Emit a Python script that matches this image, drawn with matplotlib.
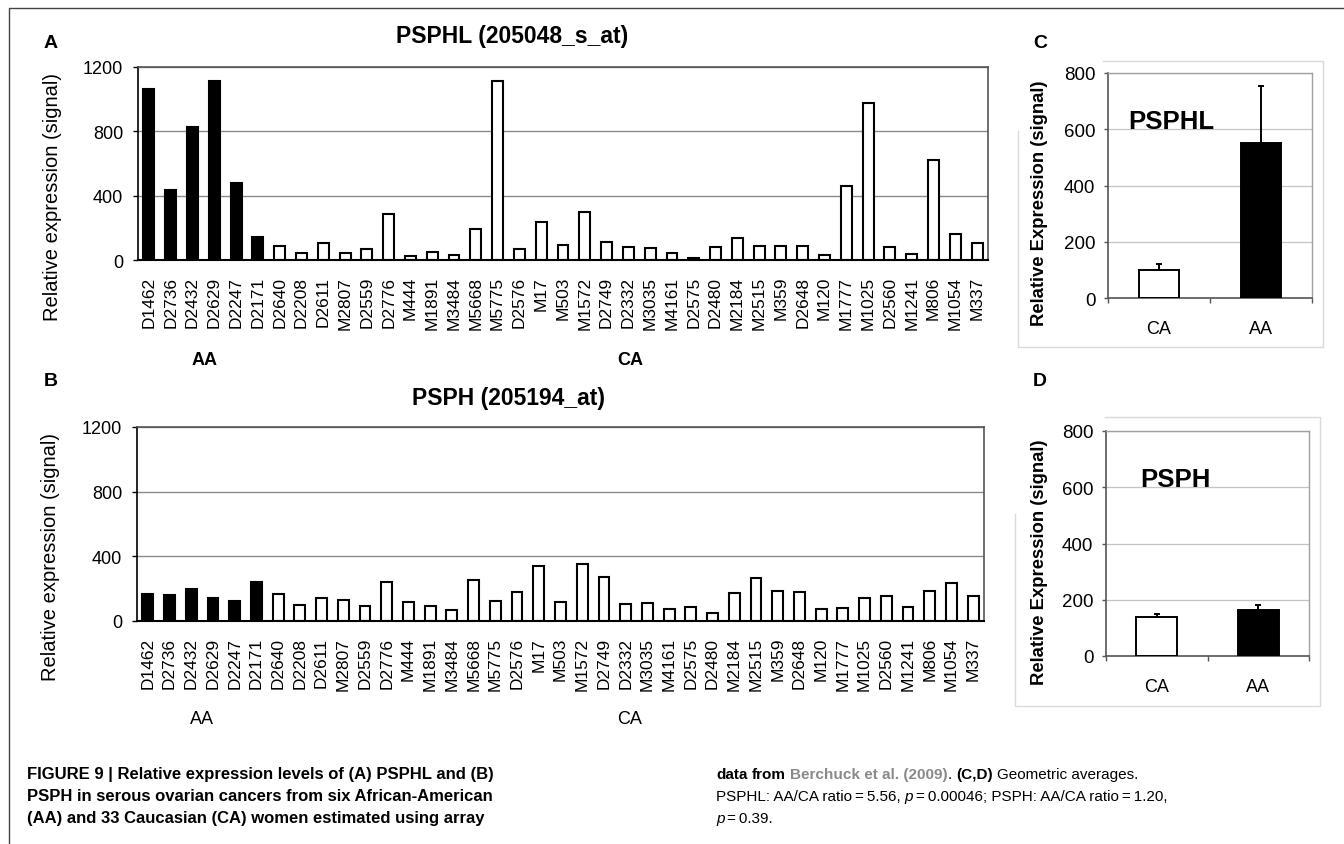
import matplotlib
matplotlib.use('Agg')
import matplotlib.pyplot as plt
from matplotlib.lines import Line2D
import numpy as np

plt.rcParams['font.family'] = ['Liberation Sans', 'DejaVu Sans']

# ---------------- data ----------------
samples = ["D1462", "D2736", "D2432", "D2629", "D2247", "D2171", "D2640", "D2208",
           "D2611", "M2807", "D2559", "D2776", "M444", "M1891", "M3484", "M5668",
           "M5775", "D2576", "M17", "M503", "M1572", "D2749", "D2332", "M3035",
           "M4161", "D2575", "D2480", "M2184", "M2515", "M359", "D2648", "M120",
           "M1777", "M1025", "D2560", "M1241", "M806", "M1054", "M337"]
groups = ["AA"] * 6 + ["CA"] * 33

pspHL_signal = [1065, 437, 830, 1115, 478, 143, 87, 46, 106, 46, 67, 285, 25, 52,
                33, 191, 1115, 67, 237, 94, 299, 114, 79, 73, 46, 10, 79, 135, 87,
                87, 87, 31, 459, 977, 79, 40, 624, 160, 108]
psph_signal = [169, 163, 196, 142, 122, 243, 167, 99, 140, 128, 95, 241, 120, 95,
               66, 256, 126, 179, 340, 120, 355, 274, 107, 111, 74, 87, 52, 171,
               268, 188, 181, 72, 80, 140, 153, 87, 186, 233, 155]

gm_groups = ["CA", "AA"]
pspHL_gm = [100, 550]
pspHL_gm_err = [20, 205]
psph_gm = [137, 164]
psph_gm_err = [11, 16]

# ---------------- figure ----------------
W, H = 1344, 845
fig = plt.figure(figsize=(W / 100, H / 100), dpi=100)
fig.patch.set_facecolor('white')


def px_axes(l, t, r, b):
    return fig.add_axes([l / W, 1 - b / H, (r - l) / W, (b - t) / H])


def ftext(x, y, s, **kw):
    return fig.text(x / W, 1 - y / H, s, **kw)


# outer frame (top and left edges)
fig.add_artist(Line2D([9 / W, 9 / W, 1.0], [0.0, 1 - 9 / H, 1 - 9 / H],
                      transform=fig.transFigure, color='#444444', lw=1.0))


def sample_panel(ax, vals):
    x = np.arange(len(samples))
    colors = ['black' if g == 'AA' else 'white' for g in groups]
    ax.bar(x, vals, width=0.5, color=colors, edgecolor='black', linewidth=1.5, zorder=3)
    ax.set_xlim(-0.5, len(samples) - 0.5)
    ax.set_ylim(0, 1200)
    ax.set_yticks([0, 400, 800, 1200])
    ax.yaxis.grid(True, color='#8a8a8a', linewidth=1.0, zorder=0)
    ax.set_axisbelow(True)
    ax.set_xticks(x)
    ax.set_xticklabels(samples, rotation=90, fontsize=12.5)
    ax.tick_params(axis='x', length=0, pad=11.5)
    ax.tick_params(axis='y', length=3.6, width=1.0, direction='out', labelsize=13, pad=7)
    for s in ['top', 'right']:
        ax.spines[s].set_color('#555555')
        ax.spines[s].set_linewidth(1.2)
    ax.spines['left'].set_color('black')
    ax.spines['left'].set_linewidth(1.2)
    ax.spines['bottom'].set_color('black')
    ax.spines['bottom'].set_linewidth(1.5)
    ax.spines['bottom'].set_zorder(4)


axA = px_axes(138, 68, 988, 261)
sample_panel(axA, pspHL_signal)
axB = px_axes(137, 428, 984, 622)
sample_panel(axB, psph_signal)

# labels for A and B
ftext(51, 44, "A", fontsize=14, fontweight='bold', ha='center', va='center')
ftext(51, 381, "B", fontsize=14, fontweight='bold', ha='center', va='center')
ftext(512, 37, "PSPHL (205048_s_at)", fontsize=16.5, fontweight='bold', ha='center', va='center')
ftext(508, 398, "PSPH (205194_at)", fontsize=16.5, fontweight='bold', ha='center', va='center')
ftext(53, 197, "Relative expression (signal)", fontsize=14.5, rotation=90, ha='center', va='center')
ftext(51, 557, "Relative expression (signal)", fontsize=14.5, rotation=90, ha='center', va='center')
ftext(205, 361, "AA", fontsize=13, fontweight='bold', ha='center', va='center')
ftext(630, 361, "CA", fontsize=13, fontweight='bold', ha='center', va='center')
ftext(202, 720, "AA", fontsize=13, ha='center', va='center')
ftext(630, 720, "CA", fontsize=13, ha='center', va='center')


def gm_panel(ax, vals, errs):
    x = np.arange(len(gm_groups))
    ax.bar(x, vals, width=0.4, color=['white', 'black'], edgecolor='black',
           linewidth=1.4, zorder=3)
    ax.errorbar(x, vals, yerr=[[0] * len(errs), errs], fmt='none', ecolor='black',
                elinewidth=1.4, capsize=2.5, capthick=1.4, zorder=4)
    ax.set_xlim(-0.5, 1.5)
    ax.set_ylim(0, 800)
    ax.set_yticks([0, 200, 400, 600, 800])
    ax.yaxis.grid(True, color='#c4c4c4', linewidth=0.9, zorder=0)
    ax.set_axisbelow(True)
    ax.set_xticks(x)
    ax.set_xticklabels(gm_groups, fontsize=13)
    ax.set_xticks([-0.5, 0.5, 1.5], minor=True)
    ax.tick_params(axis='x', which='major', length=0, pad=16)
    ax.tick_params(axis='x', which='minor', length=3.5, width=1.0, color='#555555',
                   direction='out')
    ax.tick_params(axis='y', length=3, width=1.0, color='#555555', direction='out',
                   labelsize=13.5, pad=6)
    for s in ['top', 'right']:
        ax.spines[s].set_color('#a0a0a0')
        ax.spines[s].set_linewidth(1.0)
    for s in ['left', 'bottom']:
        ax.spines[s].set_color('#555555')
        ax.spines[s].set_linewidth(1.2)


def chart_box(pts):
    xs = [p[0] / W for p in pts]
    ys = [1 - p[1] / H for p in pts]
    fig.add_artist(Line2D(xs, ys, transform=fig.transFigure, color='#dadada', lw=1.0))


chart_box([(1103, 62), (1323, 62), (1323, 348), (1018, 348), (1018, 132)])
chart_box([(1105, 418), (1320, 418), (1320, 707), (1015, 707), (1015, 515)])

axC = px_axes(1108, 74, 1312, 299)
gm_panel(axC, pspHL_gm, pspHL_gm_err)
axD = px_axes(1106, 432, 1309, 657)
gm_panel(axD, psph_gm, psph_gm_err)

ftext(1040, 43, "C", fontsize=14, fontweight='bold', ha='center', va='center')
ftext(1040, 382, "D", fontsize=14, fontweight='bold', ha='center', va='center')
ftext(1039, 203, "Relative Expression (signal)", fontsize=13.3, fontweight='bold',
      rotation=90, ha='center', va='center')
ftext(1039, 562, "Relative Expression (signal)", fontsize=13.3, fontweight='bold',
      rotation=90, ha='center', va='center')
ftext(1171, 122, "PSPHL", fontsize=18.5, fontweight='bold', ha='center', va='center')
ftext(1175, 480, "PSPH", fontsize=18.5, fontweight='bold', ha='center', va='center')

# ---------------- caption ----------------
cap_left = 12.0
cap_right = 11.0
line_y = [775, 797, 819]
left_lines = ["FIGURE 9 | Relative expression levels of (A) PSPHL and (B)",
              "PSPH in serous ovarian cancers from six African-American",
              "(AA) and 33 Caucasian (CA) women estimated using array"]
for yy, s in zip(line_y, left_lines):
    ftext(27, yy, s, fontsize=cap_left, fontweight='bold', ha='left', va='center')

renderer = fig.canvas.get_renderer()
space_px = cap_right * 100 / 72 * 0.278
TS = "\u2009"


def rich(x0, y0, pieces):
    x = x0
    for txt, weight, style, color in pieces:
        if txt == " ":
            x += space_px
            continue
        t = ftext(x, y0, txt, fontsize=cap_right, fontweight=weight, fontstyle=style,
                  color=color, ha='left', va='center')
        bb = t.get_window_extent(renderer)
        x += bb.width


rich(716, line_y[0], [("data", 'bold', 'normal', 'black'), (" ", 0, 0, 0),
                      ("from", 'bold', 'normal', 'black'), (" ", 0, 0, 0),
                      ("Berchuck et al. (2009)", 'bold', 'normal', '#8a8a8a'),
                      (".", 'normal', 'normal', 'black'), (" ", 0, 0, 0),
                      ("(C,D)", 'bold', 'normal', 'black'), (" ", 0, 0, 0),
                      ("Geometric averages.", 'normal', 'normal', 'black')])
rich(716, line_y[1], [("PSPHL: AA/CA ratio" + TS + "=" + TS + "5.56,", 'normal', 'normal', 'black'),
                      (" ", 0, 0, 0),
                      ("p", 'normal', 'italic', 'black'),
                      (TS + "=" + TS + "0.00046; PSPH: AA/CA ratio" + TS + "=" + TS + "1.20,",
                       'normal', 'normal', 'black')])
rich(716, line_y[2], [("p", 'normal', 'italic', 'black'),
                      (TS + "=" + TS + "0.39.", 'normal', 'normal', 'black')])

fig.savefig("out.png", dpi=100, facecolor='white')
